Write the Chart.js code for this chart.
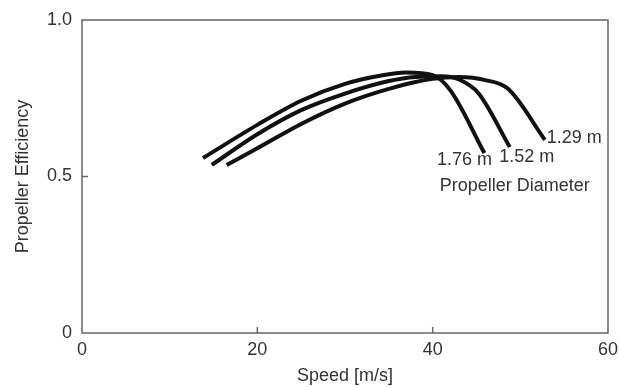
<!DOCTYPE html>
<html>
<head>
<meta charset="utf-8">
<script src="https://cdn.jsdelivr.net/npm/chart.js@4/dist/chart.umd.min.js"></script>
<style>
  html, body { margin: 0; padding: 0; background: #fff; }
  #wrap { width: 619px; height: 387px; }
</style>
</head>
<body>
<div id="wrap"><canvas id="effChart" width="619" height="387"></canvas></div>
<script>
// Propeller efficiency vs speed, one curve per propeller diameter
const diameters = ['1.76 m', '1.52 m', '1.29 m'];

const speed176 = [13.8, 20, 25, 30, 34, 37, 40, 42, 45.9];
const eff176   = [0.559, 0.665, 0.742, 0.796, 0.822, 0.832, 0.824, 0.776, 0.575];

const speed152 = [14.8, 20, 25, 30, 35, 38, 41, 43, 45.2, 48.8];
const eff152   = [0.537, 0.635, 0.712, 0.765, 0.805, 0.818, 0.820, 0.810, 0.767, 0.594];

const speed129 = [16.5, 20, 25, 30, 35, 40, 43, 46, 48.6, 52.8];
const eff129   = [0.537, 0.590, 0.668, 0.733, 0.780, 0.812, 0.818, 0.808, 0.780, 0.617];

const xTicks = [0, 20, 40, 60];
const yTicks = [0, 0.5, 1.0];

// label anchors in data units (left edge, vertical middle)
const labelText = ['1.76 m', '1.52 m', '1.29 m', 'Propeller Diameter'];
const labelX    = [40.5, 47.6, 53.0, 40.8];
const labelY    = [0.553, 0.562, 0.623, 0.470];

const FONT = '"Liberation Sans", Arial, sans-serif';
const FONT_SIZE = 18;
const TEXT_COLOR = '#333';
const AXIS_COLOR = '#666';

function toPoints(xs, ys) {
    return xs.map((x, i) => ({ x: x, y: ys[i] }));
}

const seriesX = [speed176, speed152, speed129];
const seriesY = [eff176, eff152, eff129];

const datasets = diameters.map((d, i) => ({
    label: d,
    data: toPoints(seriesX[i], seriesY[i]),
    borderColor: '#111',
    borderWidth: 4,
    pointRadius: 0,
    cubicInterpolationMode: 'monotone',
    fill: false,
}));

// frame, inward ticks and curve labels
const framePlugin = {
    id: 'frame',
    afterDraw(chart) {
        const c = chart.ctx;
        const a = chart.chartArea;
        const xs = chart.scales.x;
        const ys = chart.scales.y;
        c.save();
        c.strokeStyle = AXIS_COLOR;
        c.lineWidth = 1.5;
        c.strokeRect(a.left, a.top, a.right - a.left, a.bottom - a.top);
        c.beginPath();
        xTicks.forEach(v => {
            if (v === xs.min || v === xs.max) return;
            const px = xs.getPixelForValue(v);
            c.moveTo(px, a.bottom);
            c.lineTo(px, a.bottom - 6);
        });
        yTicks.forEach(v => {
            if (v === ys.min || v === ys.max) return;
            const py = ys.getPixelForValue(v);
            c.moveTo(a.left, py);
            c.lineTo(a.left + 6, py);
        });
        c.stroke();

        c.fillStyle = TEXT_COLOR;
        c.font = FONT_SIZE + 'px ' + FONT;
        c.textAlign = 'left';
        c.textBaseline = 'middle';
        labelText.forEach((t, i) => {
            c.fillText(t, xs.getPixelForValue(labelX[i]), ys.getPixelForValue(labelY[i]));
        });
        c.restore();
    }
};

const ctx = document.getElementById('effChart').getContext('2d');
new Chart(ctx, {
    type: 'line',
    data: { datasets: datasets },
    options: {
        responsive: false,
        animation: false,
        layout: { padding: { top: 20, right: 11, left: 12, bottom: 0 } },
        plugins: {
            legend: { display: false },
            tooltip: { enabled: false },
        },
        scales: {
            x: {
                type: 'linear',
                min: 0,
                max: 60,
                afterBuildTicks: s => { s.ticks = xTicks.map(v => ({ value: v })); },
                afterFit: s => {
                    s.height = 54;
                    s.paddingLeft = 0;
                    s.paddingRight = 0;
                },
                grid: { display: false, drawTicks: false },
                border: { display: false },
                ticks: {
                    color: TEXT_COLOR,
                    font: { family: FONT, size: FONT_SIZE },
                    padding: 6,
                    maxRotation: 0,
                    callback: v => String(v),
                },
                title: {
                    display: true,
                    text: 'Speed [m/s]',
                    color: TEXT_COLOR,
                    font: { family: FONT, size: FONT_SIZE },
                    padding: { top: 0, bottom: 0 },
                },
            },
            y: {
                type: 'linear',
                min: 0,
                max: 1,
                afterBuildTicks: s => { s.ticks = yTicks.map(v => ({ value: v })); },
                afterFit: s => {
                    s.width = 70;
                    s.paddingTop = 0;
                    s.paddingBottom = 0;
                },
                grid: { display: false, drawTicks: false },
                border: { display: false },
                ticks: {
                    color: TEXT_COLOR,
                    font: { family: FONT, size: FONT_SIZE },
                    padding: 10,
                    callback: v => (v === 0 ? '0' : v.toFixed(1)),
                },
                title: {
                    display: true,
                    text: 'Propeller Efficiency',
                    color: TEXT_COLOR,
                    font: { family: FONT, size: FONT_SIZE },
                    padding: { top: 0, bottom: 8 },
                },
            },
        },
    },
    plugins: [framePlugin],
});
</script>
</body>
</html>
